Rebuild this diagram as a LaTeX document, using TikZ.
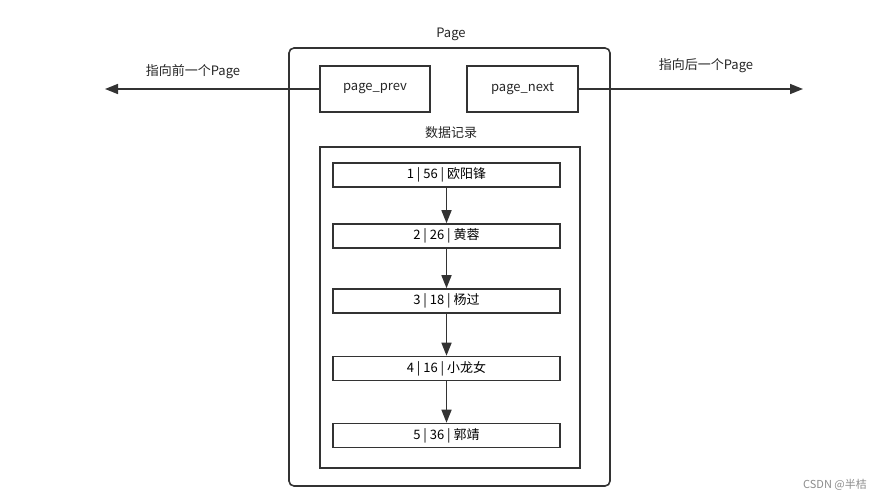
\documentclass[tikz,border=0pt]{standalone}
\usepackage{fontspec}
\setmainfont{Noto Sans CJK SC}
\usetikzlibrary{arrows.meta}
\begin{document}
\begin{tikzpicture}[x=1pt,y=-1pt,
  box/.style={draw=black!80,line width=1.6pt,inner sep=0pt},
  rec/.style={draw=black!80,line width=1.6pt,minimum width=227pt,minimum height=24pt,inner sep=0pt,font=\fontsize{13}{14}\selectfont},
  lbl/.style={font=\fontsize{13}{14}\selectfont,text=black!85},
  arr/.style={draw=black!80,line width=1.6pt,-{Triangle[length=13pt,width=10pt]}}]
\useasboundingbox (0,0) rectangle (890,500);
\draw[box,rounded corners=5pt] (289,48) rectangle (610,486);
\node[box,minimum width=110pt,minimum height=46pt,lbl] (prev) at (375,89) {page\_prev};
\node[box,minimum width=111pt,minimum height=46pt,lbl] (next) at (522.5,89) {page\_next};
\draw[box] (320,147) rectangle (580,468);
\node[lbl] (page) at (451,34) {Page};
\node[lbl] (data) at (451,133) {数据记录};
\coordinate (L) at (105,89);
\coordinate (R) at (803,89);
\draw[arr] (prev.west) -- (L);
\draw[arr] (next.east) -- (R);
\node[lbl] (lt) at (193,72) {指向前一个Page};
\node[lbl] (rt) at (706,66) {指向后一个Page};
\node[rec] (r1) at (446.5,175) {1 | 56 | 欧阳锋};
\node[rec] (r2) at (446.5,236) {2 | 26 | 黄蓉};
\node[rec] (r3) at (446.5,301) {3 | 18 | 杨过};
\node[rec] (r4) at (446.5,368.5) {4 | 16 | 小龙女};
\node[rec] (r5) at (446.5,435.5) {5 | 36 | 郭靖};
\draw[arr] (r1) -- (r2);
\draw[arr] (r2) -- (r3);
\draw[arr] (r3) -- (r4);
\draw[arr] (r4) -- (r5);
\node[font=\fontsize{11}{12}\selectfont,text=black!45] (wm) at (835,485) {CSDN @半桔};
\end{tikzpicture}
\end{document}
